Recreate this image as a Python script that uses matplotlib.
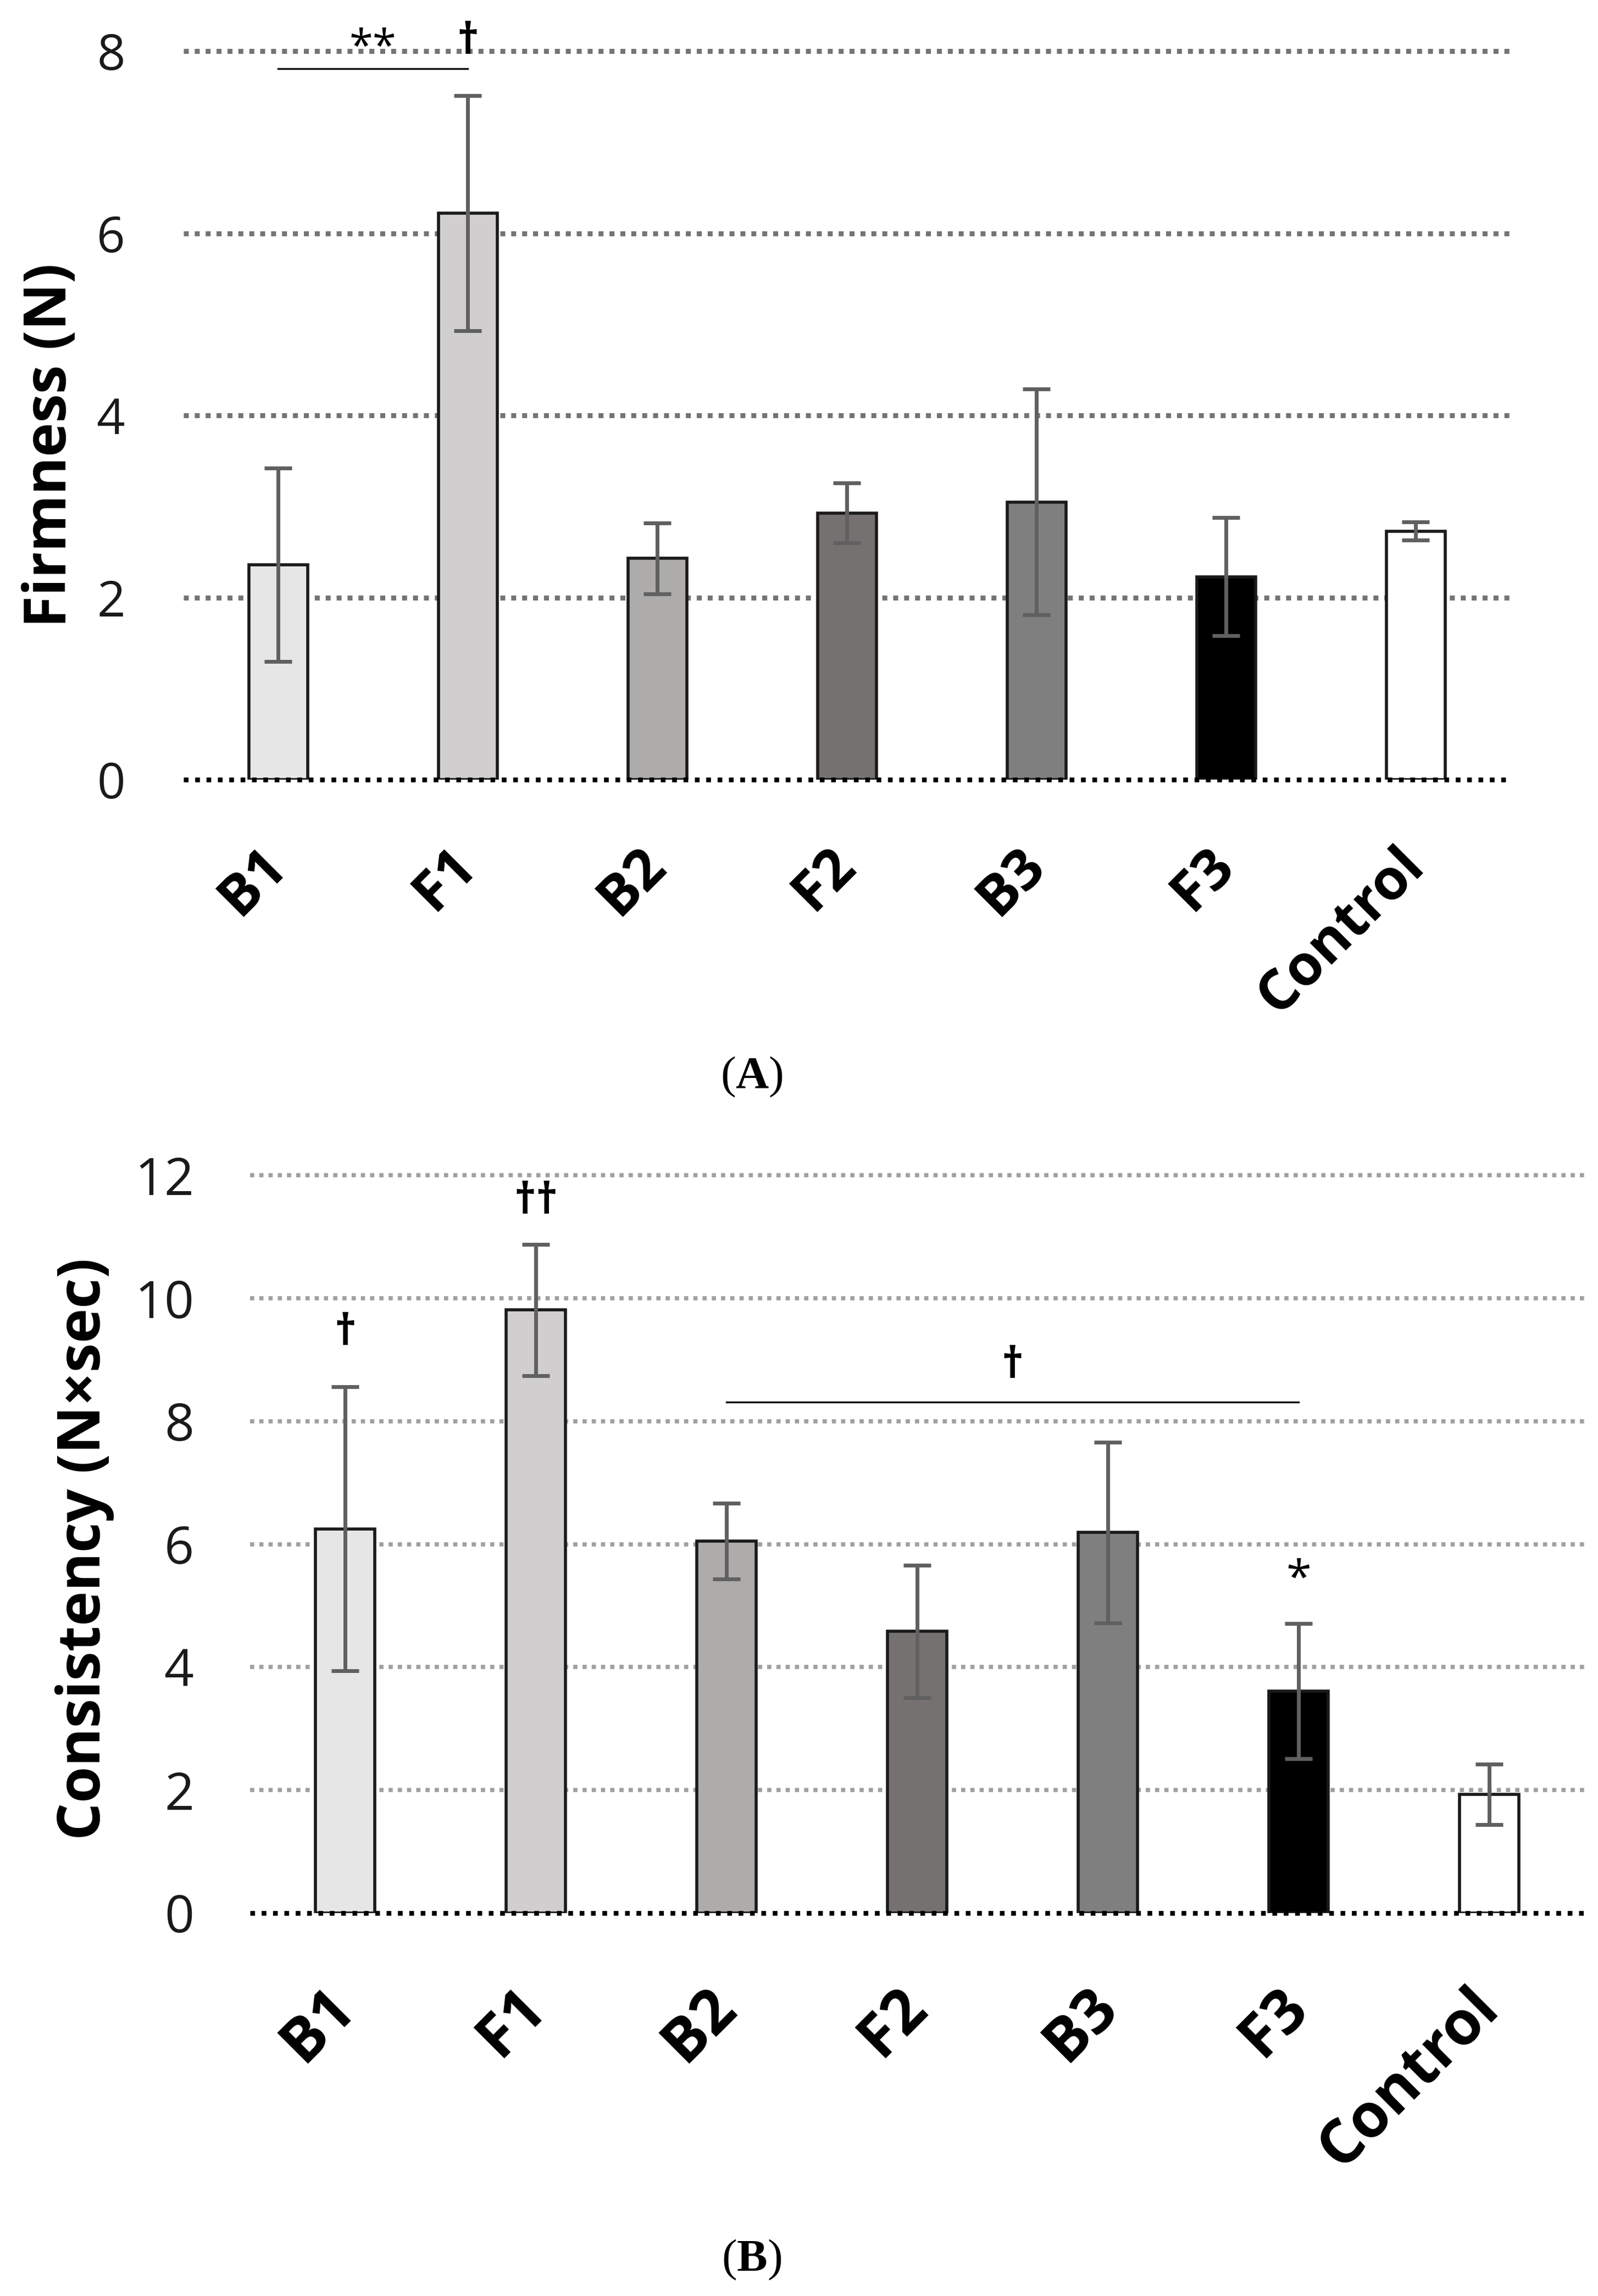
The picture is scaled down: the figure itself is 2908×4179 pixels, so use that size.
import matplotlib
matplotlib.use('Agg')
import matplotlib.pyplot as plt

groups = ['B1', 'F1', 'B2', 'F2', 'B3', 'F3', 'Control']
firmness = [2.36, 6.22, 2.43, 2.93, 3.05, 2.23, 2.73]
firmness_err = [1.06, 1.29, 0.39, 0.33, 1.24, 0.65, 0.10]
consistency = [6.25, 9.81, 6.05, 4.58, 6.19, 3.61, 1.93]
consistency_err = [2.31, 1.07, 0.62, 1.08, 1.47, 1.10, 0.49]
bar_colors = ['#e7e6e6', '#d0cece', '#aeabab', '#767171', '#7f7f7f', '#000000', '#ffffff']

plt.rcParams['font.family'] = ['Open Sans', 'DejaVu Sans']
plt.rcParams['mathtext.fontset'] = 'custom'
plt.rcParams['mathtext.rm'] = 'Liberation Serif'
plt.rcParams['mathtext.bf'] = 'Liberation Serif:bold'

W, H = 2908, 4179
fig = plt.figure(figsize=(W / 100, H / 100), dpi=100)


def panel(rect, values, errs, ymax, step, grid_color, grid_lw, tick_fs, tick_pad,
          lab_fs, lab_off):
    ax = fig.add_axes(rect)
    x = list(range(len(groups)))
    ax.bar(x, values, width=0.31, color=bar_colors, edgecolor='#1a1a1a',
           linewidth=4, zorder=2)
    ax.errorbar(x, values, yerr=errs, fmt='none', ecolor='#606060',
                elinewidth=5, capsize=18, capthick=5, zorder=4)
    ticks = list(range(0, ymax + 1, step))
    for t in ticks[1:]:
        ax.axhline(t, color=grid_color, lw=grid_lw, linestyle=(0, (1, 1.2)),
                   zorder=0, clip_on=False)
    ax.axhline(0, color='black', lw=6.2, linestyle=(0, (1, 1.4)), zorder=3,
               clip_on=False)
    ax.set_xlim(-0.5, 6.5)
    ax.set_ylim(0, ymax)
    ax.set_yticks(ticks)
    ax.set_yticklabels([str(t) for t in ticks], fontsize=tick_fs, color='#1a1a1a')
    ax.tick_params(axis='y', length=0, pad=tick_pad)
    ax.set_xticks([])
    for s in ax.spines.values():
        s.set_visible(False)
    for i, g in enumerate(groups):
        ax.text(i, lab_off, g, rotation=45, ha='right', va='center',
                rotation_mode='anchor', fontsize=lab_fs, fontweight='bold',
                clip_on=False)
    return ax


# (A) firmness
axA = panel([0.1147, 0.6604, 0.8305, 0.3173], firmness, firmness_err, 8, 2,
            '#747474', 6.5, 65, 76, 74, -0.85)
fig.text(0.0316, 0.8060, 'Firmness (N)', rotation=90, ha='center', va='center',
         fontsize=76, fontweight='bold')
axA.plot([0, 1], [7.81, 7.81], color='black', lw=2.4, clip_on=False, zorder=5)
axA.text(0.5, 7.90, '**', ha='center', va='baseline', fontsize=56,
         clip_on=False)
axA.text(1, 7.97, '\u2020', ha='center', va='baseline', fontsize=56,
         fontweight='bold', clip_on=False)
fig.text(0.4704, 0.5308, r'($\mathbf{A}$)', ha='center', va='center',
         fontsize=60, family='Liberation Serif')

# (B) consistency
axB = panel([0.1563, 0.1668, 0.8353, 0.3213], consistency, consistency_err, 12, 2,
            '#a0a0a0', 5.5, 68, 73, 80, -1.39)
fig.text(0.053, 0.3254, 'Consistency (N\u00d7sec)', rotation=90, ha='center',
         va='center', fontsize=77, fontweight='bold')
axB.plot([2, 5], [8.31, 8.31], color='black', lw=2.4, clip_on=False, zorder=5)
axB.text(0, 9.24, '\u2020', ha='center', va='baseline', fontsize=56,
         fontweight='bold', clip_on=False)
axB.text(1, 11.38, '\u2020\u2020', ha='center', va='baseline', fontsize=56,
         fontweight='bold', clip_on=False)
axB.text(3.5, 8.70, '\u2020', ha='center', va='baseline', fontsize=56,
         fontweight='bold', clip_on=False)
axB.text(5, 5.22, '*', ha='center', va='baseline', fontsize=60,
         clip_on=False)
fig.text(0.4704, 0.0158, r'($\mathbf{B}$)', ha='center', va='center',
         fontsize=60, family='Liberation Serif')

fig.savefig('out.png', dpi=100)
